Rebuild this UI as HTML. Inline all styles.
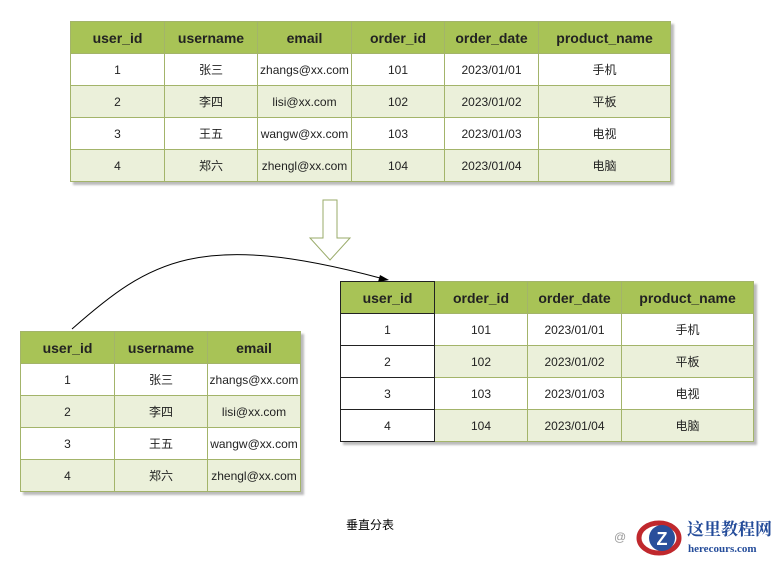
<!DOCTYPE html>
<html><head><meta charset="utf-8"><style>
body{margin:0;width:776px;height:561px;background:#fff;position:relative;overflow:hidden;font-family:"Liberation Sans","Noto Sans CJK SC",sans-serif;}
table{position:absolute;border-collapse:collapse;table-layout:fixed;box-shadow:3px 3px 2px #bbb;}
td{border:1px solid #a3b46a;text-align:center;font-size:12px;color:#222;padding:0;height:31px;background:#fff;}
tr.h td{background:#a8c356;font-weight:bold;font-size:14px;height:31px;color:#222;}
tr.a td{background:#ebf0da;}
td.k{border:1px solid #222;background:#fff !important;}
tr.h td.k{background:#a8c356 !important;}
</style></head><body>
<table style="left:70px;top:21px;width:600px">
<colgroup><col style="width:94px"><col style="width:93px"><col style="width:94px"><col style="width:93px"><col style="width:94px"><col style="width:132px"></colgroup>
<tr class="h"><td>user_id</td><td>username</td><td>email</td><td>order_id</td><td>order_date</td><td>product_name</td></tr>
<tr><td>1</td><td>张三</td><td>zhangs@xx.com</td><td>101</td><td>2023/01/01</td><td>手机</td></tr>
<tr class="a"><td>2</td><td>李四</td><td>lisi@xx.com</td><td>102</td><td>2023/01/02</td><td>平板</td></tr>
<tr><td>3</td><td>王五</td><td>wangw@xx.com</td><td>103</td><td>2023/01/03</td><td>电视</td></tr>
<tr class="a"><td>4</td><td>郑六</td><td>zhengl@xx.com</td><td>104</td><td>2023/01/04</td><td>电脑</td></tr>
</table>
<table style="left:20px;top:331px;width:280px">
<colgroup><col style="width:94px"><col style="width:93px"><col style="width:93px"></colgroup>
<tr class="h"><td>user_id</td><td>username</td><td>email</td></tr>
<tr><td>1</td><td>张三</td><td>zhangs@xx.com</td></tr>
<tr class="a"><td>2</td><td>李四</td><td>lisi@xx.com</td></tr>
<tr><td>3</td><td>王五</td><td>wangw@xx.com</td></tr>
<tr class="a"><td>4</td><td>郑六</td><td>zhengl@xx.com</td></tr>
</table>
<table style="left:340px;top:281px;width:413px">
<colgroup><col style="width:94px"><col style="width:93px"><col style="width:94px"><col style="width:132px"></colgroup>
<tr class="h"><td class="k">user_id</td><td>order_id</td><td>order_date</td><td>product_name</td></tr>
<tr><td class="k">1</td><td>101</td><td>2023/01/01</td><td>手机</td></tr>
<tr class="a"><td class="k">2</td><td>102</td><td>2023/01/02</td><td>平板</td></tr>
<tr><td class="k">3</td><td>103</td><td>2023/01/03</td><td>电视</td></tr>
<tr class="a"><td class="k">4</td><td>104</td><td>2023/01/04</td><td>电脑</td></tr>
</table>
<svg width="776" height="561" style="position:absolute;left:0;top:0">
<polygon points="323,200 337,200 337,238 350,238 330,260 310,238 323,238" fill="#fff" stroke="#9aab6a" stroke-width="1"/>
<path d="M72,329 C150,260 200,230 380,278" fill="none" stroke="#000" stroke-width="1"/>
<polygon points="389,280 378,282 380,275" fill="#000"/>
<text x="370" y="529" font-size="12" text-anchor="middle" font-family="Liberation Sans,Noto Sans CJK SC,sans-serif">垂直分表</text>
<text x="614" y="541" font-size="12" fill="#999">@</text>
<ellipse cx="659" cy="538" rx="20" ry="15" fill="none" stroke="#c0282d" stroke-width="5"/>
<circle cx="662" cy="538" r="13" fill="#2a4f9b"/>
<text x="662" y="545" font-size="18" fill="#fff" font-weight="bold" text-anchor="middle">Z</text>
<text x="687" y="535" font-size="17" fill="#244c9a" font-weight="bold" font-family="Noto Serif CJK SC,serif">这里教程网</text>
<text x="688" y="552" font-size="11" fill="#244c9a" font-weight="bold" font-family="Liberation Serif,serif">herecours.com</text>
</svg>
</body></html>
